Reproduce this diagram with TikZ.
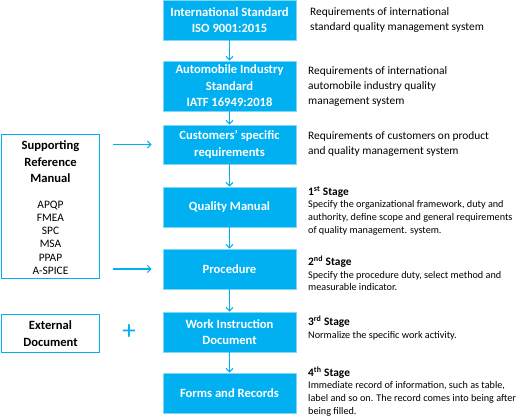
\documentclass[tikz,border=0pt]{standalone}
\usepackage{fontspec}
\setmainfont{Carlito}
\usetikzlibrary{arrows.meta}
\definecolor{qblue}{HTML}{00B0F0}
\definecolor{qedge}{HTML}{7FD6F7}
\newcommand{\stghead}{\fontsize{11.4}{12.6}\selectfont\bfseries}
\begin{document}
\begin{tikzpicture}[x=1pt,y=-1pt,
  mainbox/.style={fill=qblue, draw=qedge, line width=0.6pt, text=white, font=\fontsize{12.6}{16.5}\selectfont\bfseries,
    align=center, minimum width=133pt, inner sep=0pt},
  sidebox/.style={draw=qblue, line width=1.3pt, fill=white, minimum width=98pt, inner sep=0pt},
  desc/.style={anchor=north west, inner sep=0pt, align=left, font=\fontsize{11.4}{15}\selectfont},
  stage/.style={anchor=north west, inner sep=0pt, align=left, font=\fontsize{10.2}{12.6}\selectfont},
  arr/.style={draw=qblue, line width=1.1pt, -{Straight Barb[length=3.5pt,width=7pt,line width=1.1pt]}},
]
\useasboundingbox (0,0) rectangle (526,415);

% main column
\node[mainbox, minimum height=40pt] (b1) at (229.5,20) {International Standard\\ISO 9001:2015};
\node[mainbox, minimum height=50pt] (b2) at (229.5,86) {Automobile Industry\\Standard\\IATF 16949:2018};
\node[mainbox, minimum height=39pt] (b3) at (229.5,144.5) {Customers’ specific\\requirements};
\node[mainbox, minimum height=40pt] (b4) at (229.5,207) {Quality Manual};
\node[mainbox, minimum height=40pt] (b5) at (229.5,269) {Procedure};
\node[mainbox, minimum height=40pt] (b6) at (229.5,332) {Work Instruction\\Document};
\node[mainbox, minimum height=40pt] (b7) at (229.5,393) {Forms and Records};

\draw[arr] (b1) -- (b2);
\draw[arr] (b2) -- (b3);
\draw[arr] (b3) -- (b4);
\draw[arr] (b4) -- (b5);
\draw[arr] (b5) -- (b6);
\draw[arr] (b6) -- (b7);

% left side
\node[sidebox, minimum height=144pt] (sup) at (50.5,206.5) {};
\node[anchor=north, inner sep=0pt, align=center, font=\fontsize{12.6}{16.5}\selectfont\bfseries] (suptitle) at (50.5,140.5) {Supporting\\Reference\\Manual};
\node[anchor=north, inner sep=0pt, align=center, font=\fontsize{11.4}{13.1}\selectfont] (suplist) at (50.5,201) {APQP\\FMEA\\SPC\\MSA\\PPAP\\A-SPICE};
\node[sidebox, minimum height=38pt, align=center, font=\fontsize{12.6}{16.5}\selectfont\bfseries] (ext) at (50.5,333.5) {External\\Document};

\coordinate (s1) at (113,144.5);
\coordinate (s2) at (113,269);
\draw[arr] (s1) -- ([xshift=-11pt]b3.west);
\draw[arr] (s2) -- ([xshift=-11pt]b5.west);
\node[text=qblue, inner sep=0pt, font=\fontsize{27}{27}\selectfont] (plus) at (129,332) {+};

% right descriptions
\node[desc] (d1) at (310,7.5) {Requirements of international\\standard quality management system};
\node[desc] (d2) at (308,66) {Requirements of international\\automobile industry quality\\management system};
\node[desc] (d3) at (308,131) {Requirements of customers on product\\and quality management system};

\node[stage] (st1) at (308,186) {{\stghead 1\textsuperscript{st} Stage}\\Specify the organizational framework, duty and\\authority, define scope and general requirements\\of quality management. system.};
\node[stage] (st2) at (308,256) {{\stghead 2\textsuperscript{nd} Stage}\\Specify the procedure duty, select method and\\measurable indicator.};
\node[stage] (st3) at (308,316) {{\stghead 3\textsuperscript{rd} Stage}\\Normalize the specific work activity.};
\node[stage] (st4) at (308,366.5) {{\stghead 4\textsuperscript{th} Stage}\\Immediate record of information, such as table,\\label and so on. The record comes into being after\\being filled.};
\end{tikzpicture}
\end{document}
